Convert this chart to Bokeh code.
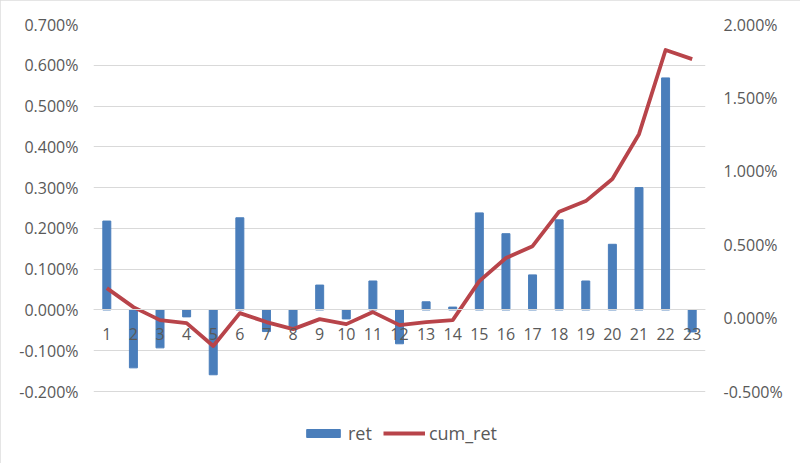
from bokeh.plotting import figure
from bokeh.models import (FactorRange, Range1d, LinearAxis, FixedTicker, InlineStyleSheet,
                          NumeralTickFormatter, Legend, LegendItem, ColumnDataSource)
from bokeh.embed import file_html
from bokeh.resources import INLINE

categories = [str(i) for i in range(1, 24)]
ret = [0.00218, -0.00142, -0.00093, -0.00017, -0.00159, 0.00226, -0.00053, -0.00048,
       0.00061, -0.00022, 0.00071, -0.00083, 0.00020, 0.00007, 0.00238, 0.00187,
       0.00086, 0.00221, 0.00071, 0.00161, 0.00300, 0.00569, -0.00054]
cum_ret = [0.00204, 0.00075, -0.00014, -0.00034, -0.00190, 0.00034, -0.00027, -0.00075,
           -0.00007, -0.00041, 0.00041, -0.00048, -0.00027, -0.00014, 0.00252, 0.00409,
           0.00490, 0.00725, 0.00797, 0.00947, 0.01253, 0.01826, 0.01764]
left_ticks = [-0.002, -0.001, 0.0, 0.001, 0.002, 0.003, 0.004, 0.005, 0.006, 0.007]
right_ticks = [-0.005, 0.0, 0.005, 0.010, 0.015, 0.020]

src = ColumnDataSource(dict(x=categories, ret=ret, cum=cum_ret))

FONT = "Open Sans"
GRAY = "#595959"

# plot area: gridded region is 367 px tall; frame extended 64 px below it for the legend
GRID_H = 367
EXTRA = 64
lspan = left_ticks[-1] - left_ticks[0]
rspan = right_ticks[-1] - right_ticks[0]
left_min = left_ticks[0] - lspan * EXTRA / GRID_H
right_min = right_ticks[0] - rspan * EXTRA / GRID_H

p = figure(frame_width=612, frame_height=GRID_H + EXTRA, output_backend="svg",
           toolbar_location=None,
           x_range=FactorRange(*categories, range_padding=0),
           y_range=Range1d(left_min, left_ticks[-1]),
           min_border_left=93, min_border_right=95, min_border_top=24, min_border_bottom=8)
p.extra_y_ranges = {"cum": Range1d(right_min, right_ticks[-1])}
p.outline_line_color = None
p.background_fill_color = "white"
p.border_fill_color = "white"
p.stylesheets = [InlineStyleSheet(css=":host { outline: 2px solid #dcdcdc; outline-offset: -2px; }")]

bars = p.vbar(x="x", top="ret", width=0.3, source=src, color="#4A7EBB")
line = p.line(x="x", y="cum", source=src, y_range_name="cum", line_color="#B8444A",
              line_width=3.8, line_join="round")

# left axis
ya = p.yaxis[0]
ya.ticker = FixedTicker(ticks=left_ticks)
ya.formatter = NumeralTickFormatter(format="0.000%")
ya.axis_line_color = None
ya.major_tick_line_color = None
ya.minor_tick_line_color = None
ya.major_label_standoff = 9
ya.major_label_text_font = FONT
ya.major_label_text_font_size = "16px"
ya.major_label_text_color = GRAY

ra = LinearAxis(y_range_name="cum", ticker=FixedTicker(ticks=right_ticks),
                formatter=NumeralTickFormatter(format="0.000%"))
ra.axis_line_color = None
ra.major_tick_line_color = None
ra.minor_tick_line_color = None
ra.major_label_standoff = 12
ra.major_label_text_font = FONT
ra.major_label_text_font_size = "16px"
ra.major_label_text_color = GRAY
p.add_layout(ra, "right")

xa = p.xaxis[0]
xa.fixed_location = 0
xa.axis_line_color = "#d9d9d9"
xa.major_tick_line_color = None
xa.minor_tick_line_color = None
xa.major_label_standoff = 12
xa.major_label_text_font = FONT
xa.major_label_text_font_size = "16px"
xa.major_label_text_color = GRAY

p.xgrid.grid_line_color = None
p.ygrid.grid_line_color = "#d9d9d9"
p.ygrid.grid_line_width = 1
p.ygrid.ticker = FixedTicker(ticks=left_ticks)

legend = Legend(items=[LegendItem(label="ret", renderers=[bars]),
                       LegendItem(label="cum_ret", renderers=[line])],
                orientation="horizontal", location=(209, 10),
                glyph_width=42, glyph_height=10, spacing=11, label_standoff=4,
                label_text_font=FONT, label_text_font_size="18px",
                label_text_color=GRAY, border_line_color=None,
                background_fill_alpha=0, padding=0, margin=0)
p.add_layout(legend, "center")

open("out.html", "w").write(file_html(p, INLINE))
